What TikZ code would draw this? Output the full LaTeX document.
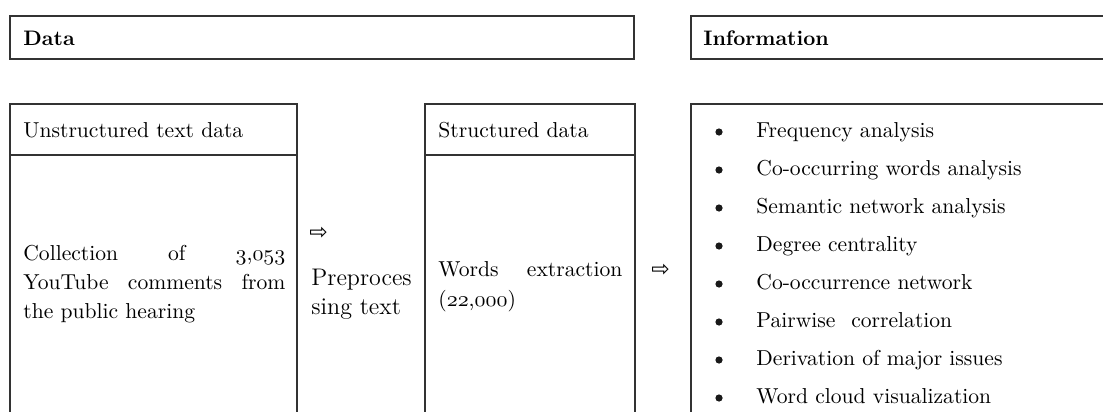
\documentclass[tikz,border=0pt]{standalone}
\usepackage{fontspec}
\newfontfamily\arrowfont{DejaVu Sans}
\newcommand{\osn}[1]{\ensuremath{\mathnormal{#1}}}
\begin{document}
\begin{tikzpicture}[x=0.5pt,y=-0.5pt,
  box/.style={draw=black!80,line width=0.8pt,inner sep=0pt,outer sep=0pt,anchor=north west},
  txt/.style={inner sep=0pt,anchor=base west,font=\fontsize{10.8pt}{14pt}\selectfont},
  big/.style={txt,font=\fontsize{12pt}{14pt}\selectfont},
  hd/.style={inner sep=0pt,anchor=base west,font=\fontsize{10.5pt}{14pt}\selectfont\bfseries},
  arr/.style={inner sep=0pt,anchor=west,font=\fontsize{11pt}{12pt}\arrowfont},
  dot/.style={circle,fill=black!90,inner sep=0pt,minimum size=3.6pt}]
\useasboundingbox (0,0) rectangle (1103,412);
\clip (0,0) rectangle (1103,412);
% boxes
\node[box,minimum width=312pt,minimum height=21.5pt] (data) at (10,16) {};
\node[box,minimum width=214.5pt,minimum height=21.5pt] (info) at (691,16) {};
\node[box,minimum width=143.5pt,minimum height=25.5pt] (unsh) at (10,104) {};
\node[box,minimum width=143.5pt,minimum height=137.5pt] (unsb) at (10,155) {};
\node[box,minimum width=105pt,minimum height=25.5pt] (sth) at (425,104) {};
\node[box,minimum width=105pt,minimum height=137.5pt] (stb) at (425,155) {};
\node[box,minimum width=214.5pt,minimum height=163pt] (list) at (691,104) {};
% headings
\node[hd] (datat) at (23,46) {Data};
\node[hd] (infot) at (703,46) {Information};
\node[txt] (unst) at (23,137) {Unstructured text data};
\node[txt] (stt) at (438,137) {Structured data};
% left body
\node[txt] (c1) at (23,260) {\makebox[131pt][s]{Collection of \osn{3},\osn{053}}};
\node[txt] (c2) at (23,289) {\makebox[131pt][s]{YouTube comments from}};
\node[txt] (c3) at (23,318) {the public hearing};
% preprocessing
\node[arr] (a1) at (309,233) {⇨};
\node[big] (p1) at (311,285) {Preproces};
\node[big] (p2) at (311,314) {sing text};
% structured body
\node[txt] (w1) at (438,276) {\makebox[92pt][s]{Words extraction}};
\node[txt] (w2) at (438,306) {(\osn{22},\osn{000})};
\node[arr] (a2) at (651,270) {⇨};
% list
\foreach \t [count=\i from 0] in {Frequency analysis,Co-occurring words analysis,Semantic network analysis,Degree centrality,Co-occurrence network,Pairwise\hspace{0.4em} correlation,Derivation of major issues,Word cloud visualization}{
  \node[dot] (b\i) at (719,132+38*\i) {};
  \node[txt] (it\i) at (756,137+38*\i) {\t};
}
\end{tikzpicture}
\end{document}
